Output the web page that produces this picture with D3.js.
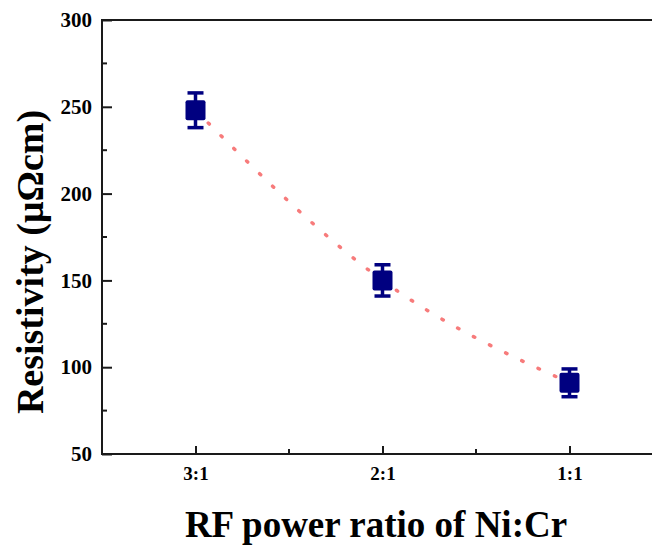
<!DOCTYPE html>
<html>
<head>
<meta charset="utf-8">
<script src="https://cdn.jsdelivr.net/npm/d3@7"></script>
<style>
  body { margin: 0; background: #fff; }
  text { font-family: "Liberation Serif", "Times New Roman", serif; font-weight: bold; }
</style>
</head>
<body>
<div id="container"></div>
<script>
/* DATA */
const ratios = ["3:1", "2:1", "1:1"];
const resistivity = [248, 150, 91];
const errors = [10, 9, 8];
const yTicks = [50, 100, 150, 200, 250, 300];

/* CONSTANTS */
const width = 652, height = 545;

const data = ratios.map((r, i) => ({ ratio: r, pos: i + 1, value: resistivity[i], err: errors[i] }));

/* SCALES */
const xScale = d3.scaleLinear()
  .domain([0.5, 3.5])
  .range([102, 663]);

const yScale = d3.scaleLinear()
  .domain([50, 300])
  .range([454, 20]);

const svg = d3.select("#container")
  .append("svg")
  .attr("width", width)
  .attr("height", height);

// fit line (dotted, behind markers)
const line = d3.line()
  .x(d => xScale(d.pos))
  .y(d => yScale(d.value))
  .curve(d3.curveNatural);

svg.append("path")
  .datum(data)
  .attr("d", line)
  .attr("fill", "none")
  .attr("stroke", "#f77b7b")
  .attr("stroke-width", 3.5)
  .attr("stroke-linecap", "round")
  .attr("stroke-dasharray", "1.5 16.5");

// frame (top + right run off the picture)
svg.append("rect")
  .attr("x", xScale(0.5))
  .attr("y", yScale(300))
  .attr("width", xScale(3.5) - xScale(0.5))
  .attr("height", yScale(50) - yScale(300))
  .attr("fill", "none")
  .attr("stroke", "#1a1a1a")
  .attr("stroke-width", 2);

// y axis ticks
const yAxis = d3.axisLeft(yScale)
  .tickValues(yTicks)
  .tickSize(-10)
  .tickPadding(10);
const gy = svg.append("g")
  .attr("transform", `translate(${xScale(0.5)},0)`)
  .call(yAxis);
gy.select(".domain").remove();
gy.selectAll("line").attr("stroke", "#1a1a1a").attr("stroke-width", 2);
gy.selectAll("text").attr("font-size", 21).attr("fill", "#000")
  .style("font-family", "'Liberation Serif', serif").style("font-weight", "bold");

// y minor ticks
svg.append("g").selectAll("line")
  .data([75, 125, 175, 225, 275])
  .join("line")
  .attr("x1", xScale(0.5)).attr("x2", xScale(0.5) + 5)
  .attr("y1", d => yScale(d)).attr("y2", d => yScale(d))
  .attr("stroke", "#1a1a1a").attr("stroke-width", 2);

// x axis ticks
const xAxis = d3.axisBottom(xScale)
  .tickValues([1, 2, 3])
  .tickFormat(d => ratios[d - 1])
  .tickSize(-8)
  .tickPadding(13);
const gx = svg.append("g")
  .attr("transform", `translate(0,${yScale(50)})`)
  .call(xAxis);
gx.select(".domain").remove();
gx.selectAll("line").attr("stroke", "#1a1a1a").attr("stroke-width", 2);
gx.selectAll("text").attr("font-size", 19).attr("fill", "#000")
  .style("font-family", "'Liberation Serif', serif").style("font-weight", "bold");

// x minor ticks
svg.append("g").selectAll("line")
  .data([1.5, 2.5])
  .join("line")
  .attr("x1", d => xScale(d)).attr("x2", d => xScale(d))
  .attr("y1", yScale(50)).attr("y2", yScale(50) - 5)
  .attr("stroke", "#1a1a1a").attr("stroke-width", 2);

// error bars
const eb = svg.append("g").selectAll("g")
  .data(data)
  .join("g")
  .attr("stroke", "#000080")
  .attr("stroke-width", 3.5);

eb.append("line")
  .attr("x1", d => xScale(d.pos)).attr("x2", d => xScale(d.pos))
  .attr("y1", d => yScale(d.value + d.err)).attr("y2", d => yScale(d.value - d.err));
eb.append("line")
  .attr("x1", d => xScale(d.pos) - 8).attr("x2", d => xScale(d.pos) + 8)
  .attr("y1", d => yScale(d.value + d.err)).attr("y2", d => yScale(d.value + d.err));
eb.append("line")
  .attr("x1", d => xScale(d.pos) - 8).attr("x2", d => xScale(d.pos) + 8)
  .attr("y1", d => yScale(d.value - d.err)).attr("y2", d => yScale(d.value - d.err));

// square markers
svg.append("g").selectAll("rect")
  .data(data)
  .join("rect")
  .attr("x", d => xScale(d.pos) - 10)
  .attr("y", d => yScale(d.value) - 10)
  .attr("width", 20)
  .attr("height", 20)
  .attr("rx", 2)
  .attr("fill", "#000080");

// axis titles
svg.append("text")
  .attr("x", 376)
  .attr("y", 537)
  .attr("text-anchor", "middle")
  .attr("font-size", 37)
  .text("RF power ratio of Ni:Cr");

svg.append("text")
  .attr("transform", "translate(43,262) rotate(-90)")
  .attr("text-anchor", "middle")
  .attr("font-size", 38)
  .text("Resistivity (μΩcm)");
</script>
</body>
</html>
